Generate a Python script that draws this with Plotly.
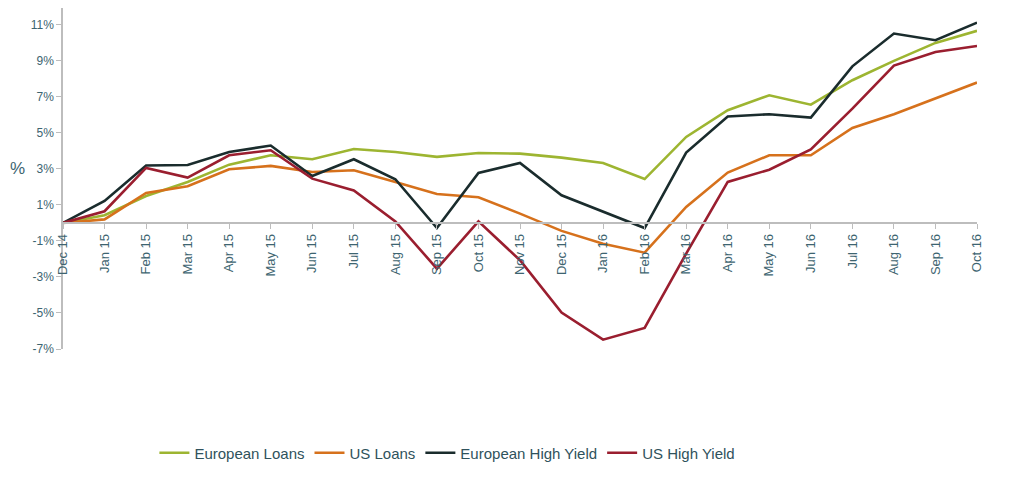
import plotly.graph_objects as go

months = ["Dec 14", "Jan 15", "Feb 15", "Mar 15", "Apr 15", "May 15", "Jun 15", "Jul 15",
          "Aug 15", "Sep 15", "Oct 15", "Nov 15", "Dec 15", "Jan 16", "Feb 16", "Mar 16",
          "Apr 16", "May 16", "Jun 16", "Jul 16", "Aug 16", "Sep 16", "Oct 16"]

european_loans = [0, 0.43, 1.5, 2.28, 3.24, 3.76, 3.54, 4.11, 3.94, 3.67, 3.89, 3.85,
                  3.63, 3.33, 2.44, 4.78, 6.26, 7.09, 6.57, 7.93, 9.0, 10.0, 10.67]
us_loans = [0, 0.2, 1.67, 2.04, 2.98, 3.17, 2.83, 2.93, 2.28, 1.61, 1.43, 0.52,
            -0.44, -1.15, -1.65, 0.89, 2.8, 3.76, 3.76, 5.28, 6.04, 6.94, 7.8]
european_hy = [0, 1.22, 3.19, 3.22, 3.94, 4.3, 2.61, 3.54, 2.43, -0.28, 2.78, 3.33,
               1.54, 0.61, -0.28, 3.91, 5.91, 6.04, 5.85, 8.7, 10.52, 10.15, 11.13]
us_hy = [0, 0.65, 3.06, 2.52, 3.76, 4.04, 2.46, 1.81, 0.09, -2.54, 0.09, -2.07,
         -4.98, -6.48, -5.83, -1.7, 2.28, 2.96, 4.09, 6.35, 8.74, 9.5, 9.83]

y_ticks = [-7, -5, -3, -1, 1, 3, 5, 7, 9, 11]
y_labels = [f"{v}%" for v in y_ticks]

series = [
    ("European Loans", european_loans, "#9DB531"),
    ("US Loans", us_loans, "#D6711C"),
    ("European High Yield", european_hy, "#1A2C2D"),
    ("US High Yield", us_hy, "#9A1E2F"),
]

fig = go.Figure()
for name, vals, color in series:
    fig.add_trace(go.Scatter(x=months, y=vals, name=name, mode="lines",
                             line=dict(color=color, width=2.6)))

# page has an 8px body margin, so margins are set a bit smaller
y_min, y_max = -7, 11.94
text_color = "#3D6470"

fig.update_layout(
    width=1019, height=478,
    margin=dict(l=55, r=50, t=0, b=137, autoexpand=False),
    paper_bgcolor="white", plot_bgcolor="white",
    showlegend=True,
    legend=dict(orientation="h", x=0.1, y=-0.305, xanchor="left", yanchor="middle",
                font=dict(family="Liberation Sans Narrow, Arial Narrow, Liberation Sans",
                          size=15, color="#2F525C"),
                itemwidth=30, tracegroupgap=0),
    xaxis=dict(type="category", anchor="free", position=(0 - y_min) / (y_max - y_min),
               showline=True, linecolor="#BDBDBD", linewidth=1.5,
               ticks="outside", ticklen=5, tickcolor="#BDBDBD",
               tickangle=-90, tickfont=dict(family="Liberation Sans, Arial", size=13, color=text_color),
               showgrid=False, zeroline=False, range=[0, len(months) - 1]),
    yaxis=dict(range=[y_min, y_max], tickvals=y_ticks, ticktext=y_labels,
               showline=True, linecolor="#BDBDBD", linewidth=1.5,
               ticks="outside", ticklen=5, tickcolor="#BDBDBD",
               tickfont=dict(family="Liberation Sans, Arial", size=12, color=text_color),
               showgrid=False, zeroline=False),
)

fig.add_annotation(text="%", xref="paper", yref="y", x=-0.039, y=3, showarrow=False,
                   xanchor="right", font=dict(family="Liberation Sans, Arial", size=17, color=text_color))

fig.write_html("out.html")
